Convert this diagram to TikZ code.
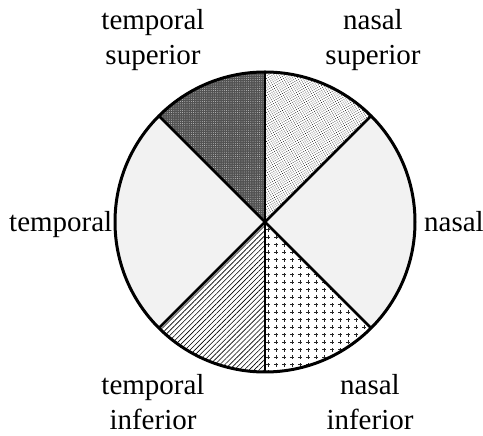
\documentclass[tikz,border=0pt]{standalone}
\usepackage{fontspec}
\setmainfont{Liberation Serif}
\usetikzlibrary{patterns,patterns.meta}
\pgfdeclarepattern{
  name=plusgrid,
  type=uncolored,
  bottom left={\pgfpoint{-.1pt}{-.1pt}},
  top right={\pgfpoint{8.1pt}{7.6pt}},
  tile size={\pgfpoint{8pt}{7.5pt}},
  code={
    \pgfsetlinewidth{0.8pt}
    \pgfpathmoveto{\pgfpoint{2.3pt}{3.75pt}}\pgfpathlineto{\pgfpoint{5.7pt}{3.75pt}}
    \pgfpathmoveto{\pgfpoint{4pt}{1.9pt}}\pgfpathlineto{\pgfpoint{4pt}{5.6pt}}
    \pgfusepath{stroke}
  }
}
\begin{document}
\begin{tikzpicture}[x=1pt,y=1pt,
  lbl/.style={font=\fontsize{29}{35.5}\selectfont, inner sep=0pt, align=center},
  rim/.style={line width=3pt},
  spoke/.style={line width=2.5pt},
  veryfaint/.style={fill=black!5}]
\useasboundingbox (0,0) rectangle (483,436);
\coordinate (c) at (265,214);
\def\R{150}
% sectors
\fill[veryfaint] (c) -- ++(135:\R) arc[start angle=135,end angle=225,radius=\R] -- cycle;
\fill[veryfaint] (c) -- ++(-45:\R) arc[start angle=-45,end angle=45,radius=\R] -- cycle;
\fill[black!68] (c) -- ++(90:\R) arc[start angle=90,end angle=135,radius=\R] -- cycle;
\fill[pattern={Dots[distance=2.2pt,radius=0.35pt]},pattern color=white] (c) -- ++(90:\R) arc[start angle=90,end angle=135,radius=\R] -- cycle;
\fill[pattern={Dots[distance=2.1pt,radius=0.5pt,angle=30]},pattern color=black!85] (c) -- ++(45:\R) arc[start angle=45,end angle=90,radius=\R] -- cycle;
\fill[pattern={Lines[angle=45,distance=3.5pt,line width=0.6pt]},pattern color=black] (c) -- ++(225:\R) arc[start angle=225,end angle=270,radius=\R] -- cycle;
\fill[pattern=plusgrid,pattern color=black!85] (c) -- ++(270:\R) arc[start angle=270,end angle=315,radius=\R] -- cycle;
% spokes
\foreach \a in {45,90,135,225,270,315} \draw[spoke] (c) -- ++(\a:\R);
\draw[rim] (c) circle[radius=\R];
% labels
\node[lbl,anchor=base] (ts) at (153,371) {temporal\\superior};
\node[lbl,anchor=base] (ns) at (373,371) {nasal\\superior};
\node[lbl,anchor=base west] (t) at (9,204) {temporal};
\node[lbl,anchor=base west] (n) at (424,204) {nasal};
\node[lbl,anchor=base] (ti) at (153,6) {temporal\\inferior};
\node[lbl,anchor=base] (ni) at (370,6) {nasal\\inferior};
\end{tikzpicture}
\end{document}
